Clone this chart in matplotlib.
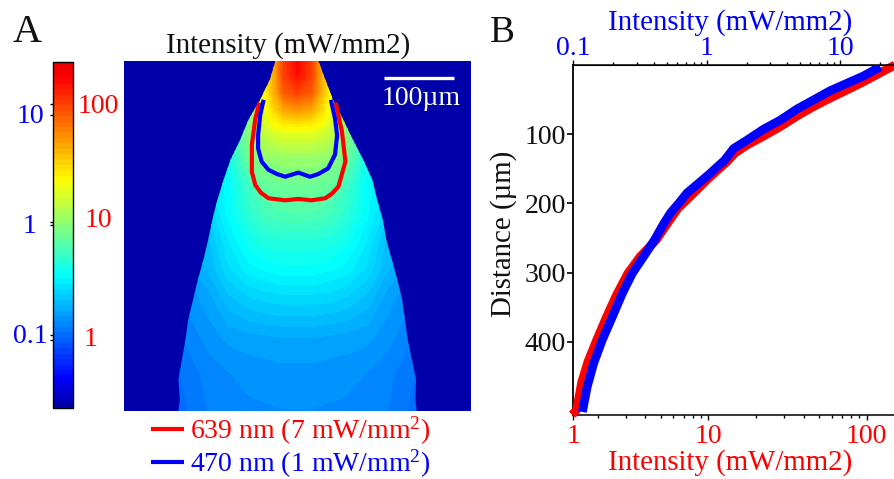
import numpy as np
import matplotlib
matplotlib.use("Agg")
import matplotlib.pyplot as plt
from matplotlib.cm import ScalarMappable
from matplotlib.colors import LinearSegmentedColormap, LogNorm, Normalize
from matplotlib.patches import Polygon
from matplotlib.ticker import NullLocator

plt.rcParams["font.family"] = ["Liberation Serif", "DejaVu Serif"]
plt.rcParams["mathtext.fontset"] = "custom"
plt.rcParams["mathtext.rm"] = "Liberation Serif"
plt.rcParams["mathtext.default"] = "rm"

# -----------------------------------
# Data
# -----------------------------------
# Panel A: intensity (red scale) at depth / lateral distance, in um
depth = [0, 20, 45, 70, 90, 105, 140, 180, 220, 260, 300, 340, 400, 450, 505]
lateral = [0, 20, 35, 50, 70, 100, 130, 175]
intensity = [
    [157, 100, 40, 30, 30, 30, 30, 30],
    [150, 100, 40, 25, 20, 20, 20, 20],
    [99, 80, 40, 20, 13, 12, 12, 12],
    [51, 45, 30, 18, 9, 7, 7, 7],
    [28, 26, 22, 16, 9, 5, 5, 5],
    [18, 18, 16, 14, 9, 5, 4, 4],
    [10.6, 10.6, 10.2, 9.8, 7.6, 3.9, 3.5, 3.5],
    [7.6, 7.6, 7.3, 7, 5.5, 3.45, 3, 3],
    [6.3, 6.2, 6, 5.6, 4.8, 3.45, 2.45, 2.4],
    [4.5, 4.5, 4.4, 4.3, 3.9, 3, 2.1, 1.9],
    [3.6, 3.6, 3.5, 3.4, 3.2, 2.65, 2.0, 1.6],
    [2.65, 2.65, 2.6, 2.55, 2.45, 2.15, 1.7, 1.4],
    [1.77, 1.77, 1.75, 1.72, 1.7, 1.65, 1.5, 1.25],
    [1.54, 1.54, 1.53, 1.52, 1.5, 1.44, 1.35, 1.15],
    [1.44, 1.44, 1.43, 1.42, 1.41, 1.4, 1.3, 1.1],
]

# outline of the lit cone
cone_depth = [0, 27, 56, 85, 114, 143, 172, 201, 229, 258, 287, 316, 345, 374, 403, 431, 460, 489, 505]
cone_left = [-32, -40, -54, -71, -83, -97, -107, -116, -123, -129, -136, -144, -151, -158, -162, -167, -172, -170, -172]
cone_right = [30, 40, 51, 66, 80, 95, 108, 115, 123, 128, 136, 144, 151, 155, 159, 165, 171, 170, 172]

# iso-intensity contours
red_x = [-55, -61, -66, -66, -61, -53, -42, -18, 1, 20, 40, 50, 59, 69, 64, 55]
red_d = [60, 83, 121, 160, 179, 190, 198, 201, 199, 201, 198, 191, 181, 145, 102, 60]
blue_x = [-49, -54, -57, -57, -52, -42, -30, -18, 1, 18, 30, 44, 54, 57, 54, 48]
blue_d = [56, 78, 107, 126, 145, 157, 163, 167, 161, 167, 163, 155, 135, 107, 83, 56]

# Panel B: intensity against distance
red_dist = [0, 24.5, 36.5, 48, 60.6, 74, 89.5, 103, 116, 127, 140, 153, 166, 195, 207, 224, 253,
            277, 301, 332, 364, 397, 429, 459, 498, 505]
red_int = [152, 95.7, 75, 58.9, 46, 36.3, 28.4, 22.3, 17.5, 14.8, 13.1, 11.3, 9.8, 7.3, 6.43, 5.7, 4.67,
           3.7, 3.1, 2.63, 2.27, 1.97, 1.73, 1.58, 1.47, 1.38]
blue_dist = [3, 16.3, 27, 37.5, 51, 64, 80, 93, 109, 121, 138, 150, 159, 185, 200, 214, 230, 253,
             277, 301, 330, 364, 397, 431, 465, 501]
blue_int = [20.0, 14.96, 11.2, 8.43, 6.3, 4.75, 3.56, 2.67, 2.0, 1.59, 1.36, 1.16, 1.03, 0.713, 0.617, 0.535, 0.474, 0.406,
            0.336, 0.277, 0.233, 0.196, 0.165, 0.142, 0.127, 0.117]

RED = "#ff0000"
BLUE = "#0000ff"
W, H = 895, 479


def px_box(x0, y0, x1, y1):
    return [x0 / W, 1 - y1 / H, (x1 - x0) / W, (y1 - y0) / H]


fig = plt.figure(figsize=(W / 100, H / 100), dpi=100)

cmap = LinearSegmentedColormap.from_list(
    "stepped_jet",
    [(0, (0, 0, 0.67)), (0.08, (0, 0, 1)), (0.38, (0, 1, 1)),
     (0.66, (1, 1, 0)), (0.96, (1, 0, 0)), (1, (0.93, 0, 0))],
    N=64,
)
vmin, vmax = 0.269, 224

# -----------------------------------
# Panel A image
# -----------------------------------
ax_img = fig.add_axes(px_box(124, 61, 471, 411))
ax_img.set_facecolor(cmap(0))
lat = np.array(lateral, dtype=float)
grid = np.log10(np.array(intensity, dtype=float))
x_full = np.concatenate([-lat[:0:-1], lat])
z_full = np.hstack([grid[:, :0:-1], grid])
levels = np.linspace(np.log10(vmin), np.log10(vmax), 65)
cs = ax_img.contourf(x_full, depth, z_full, levels=levels, cmap=cmap,
                     norm=Normalize(levels[0], levels[-1]), extend="both")
outline = list(zip(cone_left, cone_depth)) + list(zip(cone_right[::-1], cone_depth[::-1]))
cone = Polygon(outline, closed=True, transform=ax_img.transData, fc="none", ec="none")
ax_img.add_patch(cone)
cs.set_clip_path(cone)
ax_img.plot(red_x, red_d, color=RED, lw=3.0, solid_joinstyle="round", solid_capstyle="butt",
            label="639 nm (7 mW/mm$^{2}$)")
ax_img.plot(blue_x, blue_d, color=BLUE, lw=3.0, solid_joinstyle="round", solid_capstyle="butt",
            label="470 nm (1 mW/mm$^{2}$)")
ax_img.set_xlim(-250.5, 250.2)
ax_img.set_ylim(505, 0)
ax_img.set_xticks([])
ax_img.set_yticks([])
for s in ax_img.spines.values():
    s.set_visible(False)

# scale bar
ax_img.plot([125, 225], [25, 25], color="white", lw=2.4, solid_capstyle="butt")
ax_img.text(178, 54, "100µm", color="white", fontsize=20, ha="center", va="center")

leg = ax_img.legend(loc="upper left", bbox_to_anchor=(0.078, -0.01), frameon=False,
                    fontsize=20, handlelength=1.2, handletextpad=0.2,
                    labelspacing=0.03, labelcolor="linecolor", borderpad=0, borderaxespad=0)

fig.text(288 / W, 1 - 46 / H, "Intensity (mW/mm2)", fontsize=20.8, ha="center", va="center", color="#111111")
fig.text(27 / W, 1 - 33 / H, "A", fontsize=29, ha="center", va="center", color="#111111")
fig.text(502.5 / W, 1 - 33 / H, "B", fontsize=27, ha="center", va="center", color="#111111")

# -----------------------------------
# Colorbar with the two scales
# -----------------------------------
ax_cb = fig.add_axes(px_box(53, 62.3, 73, 407.7))
cb = fig.colorbar(ScalarMappable(norm=LogNorm(vmin, vmax), cmap=cmap), cax=ax_cb)
cb.outline.set_linewidth(1)
ax_cb.yaxis.set_ticks_position("right")
ax_cb.yaxis.set_major_locator(plt.FixedLocator([1, 10, 100]))
ax_cb.yaxis.set_minor_locator(NullLocator())
ax_cb.tick_params(axis="y", which="major", length=2, width=1, labelright=False, right=True)
for val, lab, dx, dy in [(100, "100", 25, -3), (10, "10", 25, 1), (1, "1", 18, 1)]:
    ax_cb.annotate(lab, xy=(1, val), xycoords=("axes fraction", "data"), xytext=(dx * 0.72, dy * 0.72),
                   textcoords="offset points", color=RED, fontsize=20, ha="center", va="center")

blue_cb = ax_cb.twinx()
blue_cb.set_yscale("log")
blue_cb.set_ylim(0.0217, 30)
blue_cb.yaxis.set_ticks_position("left")
blue_cb.yaxis.set_major_locator(plt.FixedLocator([0.1, 1, 10]))
blue_cb.yaxis.set_minor_locator(NullLocator())
blue_cb.tick_params(axis="y", length=2, width=1, labelleft=False, labelright=False)
for val, lab, dy in [(10, "10", -2), (1, "1", -2), (0.1, "0.1", -2)]:
    blue_cb.annotate(lab, xy=(0, val), xycoords=("axes fraction", "data"), xytext=(-23 * 0.72, dy * 0.72),
                     textcoords="offset points", color=BLUE, fontsize=20, ha="center", va="center")
for s in blue_cb.spines.values():
    s.set_visible(False)

# -----------------------------------
# Panel B
# -----------------------------------
ax_b = fig.add_axes(px_box(573.3, 64.7, 895, 414.7))
ax_b.set_xscale("log")
ax_b.set_xlim(1.4, 151)
ax_b.set_ylim(505, 0)
ax_b.plot(red_int, red_dist, color=RED, lw=6.3, solid_capstyle="butt", clip_on=False, zorder=3)
ax_b.set_xticks([1.4, 10, 100], labels=["1", "10", "100"])
ax_b.set_xticks([2, 3, 4, 5, 6, 7, 8, 9, 20, 30, 40, 50, 60, 70, 80, 90, 150], minor=True)
ax_b.xaxis.set_minor_formatter(plt.NullFormatter())
ax_b.tick_params(axis="x", which="major", length=3.5, width=1, labelsize=20, labelcolor=RED, pad=3)
ax_b.tick_params(axis="x", which="minor", length=2, width=1)
ax_b.set_yticks([100, 200, 300, 400])
ax_b.tick_params(axis="y", length=4.5, width=1.2, labelsize=20, pad=1, labelcolor="#111111")
ax_b.set_xlabel("Intensity (mW/mm2)", fontsize=20.8, color=RED, labelpad=0, x=0.488)
ax_b.set_ylabel("Distance (µm)", fontsize=20.8, color="#111111", labelpad=5, y=0.516)
ax_b.spines["right"].set_visible(False)
ax_b.spines["left"].set_linewidth(1.3)
ax_b.spines["bottom"].set_linewidth(1.1)

ax_top = ax_b.twiny()
ax_top.set_xscale("log")
ax_top.set_xlim(0.1, 25.8)
ax_top.plot(blue_int, blue_dist, color=BLUE, lw=6.3, solid_capstyle="butt", zorder=4)
ax_top.set_xticks([0.1, 1, 10], labels=["0.1", "1", "10"])
ax_top.set_xticks([0.2, 0.3, 0.4, 0.5, 0.6, 0.7, 0.8, 0.9, 2, 3, 4, 5, 6, 7, 8, 9, 20], minor=True)
ax_top.xaxis.set_minor_formatter(plt.NullFormatter())
ax_top.tick_params(axis="x", which="major", length=3.5, width=1, labelsize=20, labelcolor=BLUE, pad=-1)
ax_top.tick_params(axis="x", which="minor", length=2, width=1)
ax_top.set_xlabel("Intensity (mW/mm2)", fontsize=20.8, color=BLUE, labelpad=5, x=0.488)
ax_top.spines["right"].set_visible(False)
ax_top.spines["left"].set_visible(False)
ax_top.spines["bottom"].set_visible(False)
ax_top.spines["top"].set_linewidth(1.1)
ax_top.set_ylim(505, 0)

fig.savefig("out.png", dpi=100)
